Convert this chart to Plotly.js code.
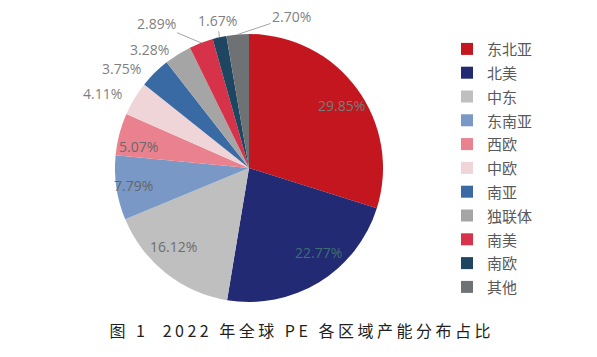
<!DOCTYPE html>
<html><head><meta charset="utf-8">
<script src="https://cdn.plot.ly/plotly-3.0.1.min.js"></script>
<style>
body{margin:0;background:#fff;}
#chart .annotation.caption .annotation-text{letter-spacing:3.5px;}
</style>
</head><body>
<div id="chart" style="width:597px;height:357px;"></div>
<script>
const regions = ['东北亚','北美','中东','东南亚','西欧','中欧','南亚','独联体','南美','南欧','其他'];
const shares = [29.85, 22.77, 16.12, 7.79, 5.07, 4.11, 3.75, 3.28, 2.89, 1.67, 2.70];
const sliceColors = ['#c3161f','#232a74','#bfbfbf','#7a98c6','#e9818e','#efd5d8','#3a6aa3','#a5a5a5','#d6334a','#1e4661','#6e7275'];
const captionText = '图 1&nbsp;&nbsp;2022 年全球 PE 各区域产能分布占比';

// label styling (layout only): radial fraction / pixel offset, leader line, colour
const labelRadius   = [0.86, 0.82, 0.81, 0.87, 0.85, 1, 1, 1, 1, 1, 1];
const labelOffset   = [[0,6],[12,-9],[-8,-7],[0,0],[0,7],[-32,-5],[-33,-4],[-28,-5],[-45,-19],[-2,-17],[54,-18]];
const labelLeader   = [false,false,false,false,false,false,false,false,true,true,true];
const labelColors   = ['#7a7a7a','#3d7070','#6e6e6e','#666666','#6a6a6a','#7f7f7f','#7f7f7f','#7f7f7f','#7f7f7f','#7f7f7f','#7f7f7f'];

const W = 597, H = 357;
const cx = 249, cy = 168, r = 134;

const trace = {
  type: 'pie',
  labels: regions.map(s => '<span style="font-size:15px">' + s + '</span>'),
  values: shares,
  sort: false,
  direction: 'clockwise',
  rotation: 0,
  marker: {colors: sliceColors, line: {width: 0}},
  textinfo: 'none',
  hoverinfo: 'none',
  domain: {x: [(cx - r)/W, (cx + r)/W], y: [(H - cy - r)/H, (H - cy + r)/H]}
};

// slice mid-angles from the data (clockwise from 12 o'clock)
const total = shares.reduce((a, b) => a + b, 0);
let cum = 0;
const labelAnnotations = shares.map((v, i) => {
  const mid = (cum + v / 2) / total * 2 * Math.PI;
  cum += v;
  const f = labelRadius[i];
  const px = cx + f * r * Math.sin(mid);
  const py = cy - f * r * Math.cos(mid);
  const ann = {
    text: v.toFixed(2) + '%',
    xref: 'paper', yref: 'paper',
    x: px / W, y: 1 - py / H,
    xanchor: 'center', yanchor: 'middle',
    font: {family: 'Open Sans, sans-serif', size: 14, color: labelColors[i]}
  };
  if (labelLeader[i]) {
    ann.showarrow = true;
    ann.ax = labelOffset[i][0];
    ann.ay = labelOffset[i][1];
    ann.arrowhead = 0;
    ann.arrowwidth = 1;
    ann.arrowcolor = '#a6a6a6';
    ann.standoff = 0;
    ann.startstandoff = 0;
  } else {
    ann.showarrow = false;
    ann.xshift = labelOffset[i][0];
    ann.yshift = -labelOffset[i][1];
  }
  return ann;
});

const layout = {
  width: W, height: H,
  margin: {l: 0, r: 0, t: 0, b: 0},
  paper_bgcolor: '#fff',
  showlegend: true,
  legend: {
    x: 447/W, y: 1 - 32/H, xanchor: 'left', yanchor: 'top',
    font: {family: 'Noto Sans CJK SC, sans-serif', size: 16, color: '#595959'},
    bgcolor: 'rgba(0,0,0,0)'
  },
  annotations: labelAnnotations.concat([{
    text: captionText,
    xref: 'paper', yref: 'paper',
    x: 301/W, y: 1 - 330/H, xanchor: 'center', yanchor: 'middle',
    showarrow: false,
    font: {family: 'Noto Sans CJK SC, sans-serif', size: 16, color: '#231f20'}
  }])
};

Plotly.newPlot('chart', [trace], layout, {staticPlot: true}).then(() => {
  const anns = document.querySelectorAll('#chart .annotation');
  if (anns.length) anns[anns.length - 1].classList.add('caption');
});
</script>
</body></html>
